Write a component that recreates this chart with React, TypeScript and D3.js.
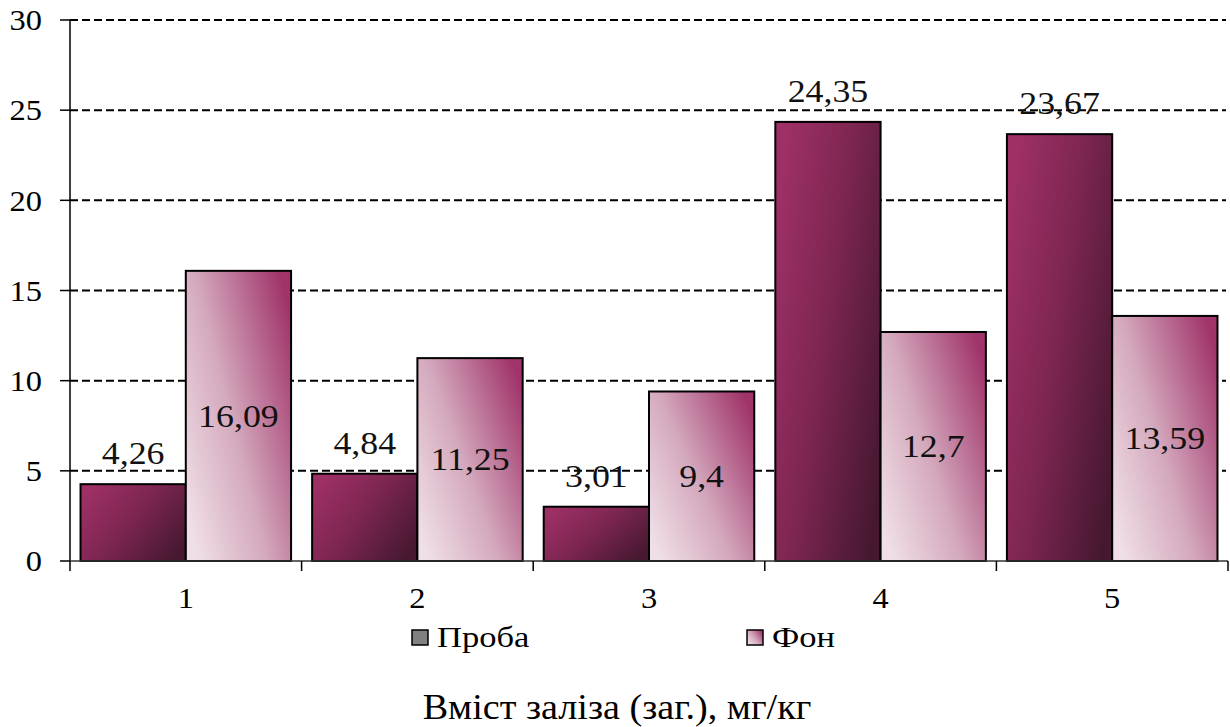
import React from "react";
import * as d3 from "d3";

const categories = ["1", "2", "3", "4", "5"];
const series = ["Проба", "Фон"];
const probaValues = [4.26, 4.84, 3.01, 24.35, 23.67];
const fonValues = [16.09, 11.25, 9.4, 12.7, 13.59];
const probaLabels = ["4,26", "4,84", "3,01", "24,35", "23,67"];
const fonLabels = ["16,09", "11,25", "9,4", "12,7", "13,59"];
const yTicks = [0, 5, 10, 15, 20, 25, 30];
const title = "Вміст заліза (заг.), мг/кг";

const W = 1230;
const H = 727;
const FONT = { fontFamily: '"Liberation Serif", "Times New Roman", serif' };

export default function App() {
  const x = d3.scaleBand<string>().domain(categories).range([70, 1228]).paddingInner(0).paddingOuter(0);
  const xs = d3.scaleBand<string>().domain(series).range([0, x.bandwidth()]).paddingInner(0).paddingOuter(0.1);
  const y = d3.scaleLinear().domain([0, 30]).range([561, 20]);
  const bounds = [...categories.map((c) => x(c) as number), 1228];

  return (
    <svg width={W} height={H} style={{ position: "absolute", left: 0, top: 0, background: "#fff" }}>
      <defs>
        <linearGradient id="gProba" x1="0" y1="0.2" x2="1" y2="0.8">
          <stop offset="0" stopColor="#9e3066" />
          <stop offset="0.45" stopColor="#7e2652" />
          <stop offset="1" stopColor="#461830" />
        </linearGradient>
        <linearGradient id="gFon" x1="0" y1="0.85" x2="1" y2="0.15">
          <stop offset="0" stopColor="#f0dfe8" />
          <stop offset="0.45" stopColor="#d4a9bd" />
          <stop offset="1" stopColor="#a0336a" />
        </linearGradient>
      </defs>

      {/* grid lines */}
      {yTicks.filter((t) => t > 0).map((t) => (
        <line key={"g" + t} x1={70} x2={1226} y1={y(t)} y2={y(t)} stroke="#000" strokeWidth={2} strokeDasharray="8,4" />
      ))}

      {/* bars */}
      {categories.map((c, i) => (
        <g key={"b" + c} transform={`translate(${x(c)},0)`}>
          <rect x={xs("Проба")} y={y(probaValues[i])} width={xs.bandwidth()} height={y(0) - y(probaValues[i])} fill="url(#gProba)" stroke="#000" strokeWidth={2} />
          <rect x={xs("Фон")} y={y(fonValues[i])} width={xs.bandwidth()} height={y(0) - y(fonValues[i])} fill="url(#gFon)" stroke="#000" strokeWidth={2} />
        </g>
      ))}

      {/* axes */}
      <line x1={70} x2={70} y1={y(30)} y2={y(0)} stroke="#000" strokeWidth={1.5} />
      <line x1={70} x2={1228} y1={y(0)} y2={y(0)} stroke="#333" strokeWidth={1.5} />
      {yTicks.map((t) => (
        <g key={"yt" + t}>
          <line x1={60} x2={70} y1={y(t)} y2={y(t)} stroke="#000" strokeWidth={1.5} />
          <text transform={`translate(42,${y(t)}) scale(1.08,1)`} dy="0.34em" textAnchor="end" style={FONT} fontSize={30} fill="#000">{t}</text>
        </g>
      ))}
      {bounds.map((b, i) => (
        <line key={"xt" + i} x1={b} x2={b} y1={y(0)} y2={y(0) + 10} stroke="#000" strokeWidth={1.5} />
      ))}
      {categories.map((c) => (
        <text key={"xl" + c} transform={`translate(${(x(c) as number) + x.bandwidth() / 2},608) scale(1.08,1)`} textAnchor="middle" style={FONT} fontSize={30} fill="#000">{c}</text>
      ))}

      {/* data labels */}
      {categories.map((c, i) => {
        const px = (x(c) as number) + (xs("Проба") as number) + xs.bandwidth() / 2;
        const fx = (x(c) as number) + (xs("Фон") as number) + xs.bandwidth() / 2;
        const fy = (y(fonValues[i]) + y(0)) / 2;
        return (
          <g key={"l" + c}>
            <text transform={`translate(${px},${y(probaValues[i]) - 20}) scale(1.12,1)`} textAnchor="middle" style={FONT} fontSize={32} fill="#111">{probaLabels[i]}</text>
            <text transform={`translate(${fx},${fy}) scale(1.12,1)`} dy="0.34em" textAnchor="middle" style={FONT} fontSize={32} fill="#111">{fonLabels[i]}</text>
          </g>
        );
      })}

      {/* legend */}
      <rect x={412} y={630} width={16} height={15} fill="#808080" stroke="#000" strokeWidth={1.5} />
      <text transform="translate(437,647) scale(1.15,1)" style={FONT} fontSize={30} fill="#000">{series[0]}</text>
      <rect x={747} y={630} width={16} height={15} fill="url(#gFon)" stroke="#000" strokeWidth={1.5} />
      <text transform="translate(772,647) scale(1.15,1)" style={FONT} fontSize={30} fill="#000">{series[1]}</text>

      {/* title */}
      <text transform="translate(617,719) scale(1.06,1)" textAnchor="middle" style={FONT} fontSize={36} fill="#000">{title}</text>
    </svg>
  );
}
